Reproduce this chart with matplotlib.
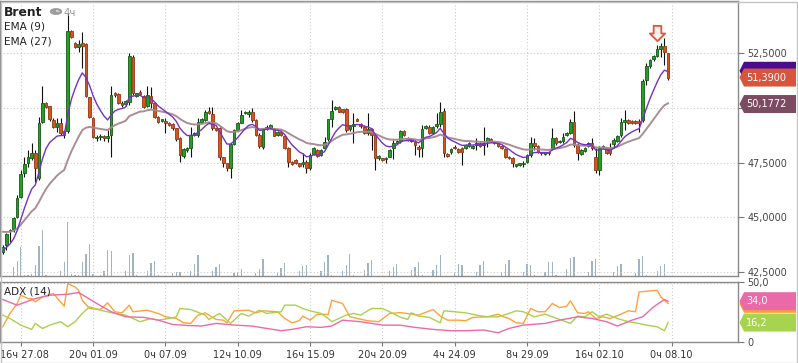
import numpy as np
import pandas as pd
import matplotlib
matplotlib.use("Agg")
import matplotlib.pyplot as plt
from matplotlib.patches import Polygon, Rectangle, Circle, Wedge
from matplotlib.path import Path
from matplotlib.transforms import ScaledTranslation

# ---------------- data ----------------
opens = [43.39, 43.73, 44.35, 44.44, 45.02, 45.94, 47.00, 47.49, 47.72, 47.92,
         46.78, 49.34, 50.21, 50.09, 49.45, 49.14, 49.32, 48.92, 48.96, 53.52,
         52.96, 52.80, 52.96, 52.93, 50.49, 49.53, 48.60, 48.65, 48.72, 48.60,
         48.76, 50.67, 50.64, 50.24, 50.18, 50.29, 52.32, 50.55, 50.74, 50.55,
         50.09, 50.55, 50.24, 49.60, 49.42, 49.40, 49.30, 49.26, 49.07, 48.61,
         47.80, 48.07, 48.15, 48.76, 48.76, 49.37, 49.45, 49.88, 49.70, 49.07,
         49.07, 47.74, 47.49, 47.23, 48.35, 48.99, 49.32, 49.75, 49.70, 49.80,
         49.45, 48.76, 48.20, 49.07, 49.10, 49.07, 48.76, 48.91, 48.71, 48.15,
         47.51, 47.62, 47.46, 47.43, 47.54, 47.23, 47.89, 48.07, 47.84, 48.15,
         48.56, 49.48, 49.95, 50.03, 49.93, 49.93, 49.03, 49.17, 49.50, 49.26,
         49.14, 48.84, 49.02, 48.76, 47.69, 47.69, 47.64, 47.77, 48.15, 48.41,
         48.50, 48.94, 48.60, 48.50, 48.45, 48.23, 48.15, 49.07, 49.14, 48.84,
         49.17, 49.26, 49.87, 47.89, 47.96, 48.23, 48.10, 48.15, 48.15, 48.27,
         48.18, 48.30, 48.38, 48.30, 48.50, 48.58, 48.45, 48.38, 48.26, 48.10,
         47.77, 47.69, 47.35, 47.40, 47.42, 47.54, 47.84, 48.38, 48.26, 47.99,
         47.89, 47.99, 48.15, 48.61, 48.44, 48.50, 48.76, 48.87, 49.34, 48.30,
         47.90, 48.03, 48.26, 48.38, 47.77, 47.16, 48.20, 48.15, 48.10, 48.35,
         48.50, 48.76, 49.37, 49.45, 49.42, 49.40, 49.40, 49.45, 51.28, 51.92,
         52.23, 52.38, 52.71, 52.84, 52.50]
highs = [43.70, 44.28, 44.45, 45.00, 46.00, 47.16, 47.77, 48.07, 48.38, 48.07,
         49.60, 51.00, 50.25, 50.10, 49.52, 49.52, 49.52, 49.00, 54.35, 53.55,
         53.00, 53.10, 53.49, 52.96, 50.50, 49.60, 48.75, 48.80, 48.75, 48.99,
         51.02, 50.75, 50.70, 50.30, 50.35, 52.50, 52.40, 50.70, 50.80, 50.59,
         51.00, 50.97, 50.25, 49.65, 49.50, 49.52, 49.35, 49.30, 49.10, 48.68,
         48.15, 48.20, 49.14, 48.90, 49.52, 49.55, 49.90, 50.03, 50.03, 49.10,
         49.14, 47.77, 47.50, 48.38, 49.05, 49.35, 49.90, 49.85, 49.90, 50.00,
         49.50, 48.84, 49.10, 49.20, 49.25, 49.10, 48.95, 48.95, 48.75, 48.23,
         47.55, 47.66, 47.50, 47.92, 47.61, 47.92, 48.20, 48.12, 48.12, 48.68,
         49.50, 50.36, 50.10, 50.10, 49.97, 49.98, 49.20, 49.75, 49.55, 49.30,
         49.20, 49.75, 49.07, 48.84, 47.85, 47.70, 47.77, 48.10, 48.53, 48.55,
         48.99, 49.00, 48.65, 48.60, 48.53, 48.30, 49.22, 49.20, 49.20, 49.15,
         49.75, 50.29, 49.98, 47.95, 48.15, 48.30, 48.15, 48.23, 48.35, 48.45,
         48.30, 48.60, 48.42, 49.11, 48.65, 48.62, 48.50, 48.42, 48.30, 48.15,
         47.80, 47.77, 47.45, 47.50, 47.55, 47.90, 48.68, 48.60, 48.30, 48.00,
         48.00, 48.00, 49.07, 48.68, 48.55, 48.84, 48.90, 49.48, 49.87, 48.38,
         48.10, 48.20, 48.42, 48.61, 48.15, 48.26, 48.30, 48.20, 48.38, 48.61,
         48.75, 49.52, 49.90, 49.50, 49.45, 49.45, 49.48, 51.31, 52.04, 52.25,
         52.42, 52.88, 52.99, 53.19, 52.53]
lows = [43.30, 43.50, 43.85, 44.30, 44.95, 45.86, 46.85, 47.30, 47.62, 46.62,
        46.70, 49.30, 50.00, 49.40, 49.07, 48.91, 48.76, 48.60, 48.84, 53.20,
        52.75, 52.57, 51.81, 50.52, 49.55, 48.60, 48.50, 48.55, 48.50, 48.45,
        47.77, 50.50, 50.20, 50.05, 50.10, 50.15, 50.60, 50.50, 50.60, 49.98,
        50.03, 49.98, 49.55, 49.30, 49.35, 48.84, 49.15, 49.00, 48.50, 47.54,
        47.70, 48.00, 47.77, 48.70, 48.68, 49.30, 49.40, 49.70, 48.99, 48.95,
        47.61, 47.31, 47.10, 46.77, 48.30, 48.95, 49.29, 49.70, 49.60, 49.37,
        48.70, 48.15, 48.10, 49.00, 49.05, 48.70, 48.70, 48.70, 48.10, 47.31,
        47.40, 47.45, 47.30, 47.31, 47.00, 47.16, 47.85, 47.75, 47.80, 48.07,
        48.50, 49.14, 49.90, 49.80, 49.78, 48.91, 48.95, 48.38, 49.40, 49.10,
        48.80, 48.76, 48.07, 47.16, 47.60, 47.55, 47.50, 47.75, 47.65, 48.35,
        48.38, 48.70, 48.50, 48.45, 47.84, 47.77, 47.77, 49.05, 48.80, 48.80,
        49.10, 49.14, 47.77, 47.75, 47.90, 48.10, 47.95, 47.39, 48.10, 48.20,
        48.10, 48.07, 48.20, 47.84, 48.23, 48.45, 48.35, 48.20, 48.10, 47.70,
        47.65, 47.28, 47.30, 47.35, 47.31, 47.50, 47.77, 48.07, 47.95, 47.85,
        47.85, 47.85, 48.07, 48.30, 48.40, 48.41, 48.70, 48.81, 48.23, 47.61,
        47.85, 48.00, 48.20, 48.07, 47.00, 46.93, 48.15, 47.90, 47.84, 48.15,
        48.45, 48.68, 49.00, 49.25, 49.25, 49.25, 48.91, 49.37, 51.05, 51.85,
        52.15, 52.35, 52.35, 51.97, 51.28]
closes = [43.64, 44.23, 44.42, 44.94, 45.89, 46.97, 47.43, 47.74, 47.92, 47.23,
          49.29, 50.21, 50.06, 49.49, 49.14, 49.29, 48.84, 48.77, 53.52, 53.23,
          52.80, 52.93, 52.85, 50.55, 49.60, 48.65, 48.68, 48.72, 48.60, 48.72,
          50.59, 50.58, 50.24, 50.12, 50.30, 52.38, 50.67, 50.67, 50.64, 50.03,
          50.59, 50.21, 49.60, 49.37, 49.47, 49.32, 49.22, 49.07, 48.58, 47.84,
          48.10, 48.15, 48.76, 48.84, 49.37, 49.50, 49.83, 49.78, 49.07, 49.00,
          47.74, 47.49, 47.23, 48.35, 48.99, 49.29, 49.68, 49.81, 49.83, 49.45,
          48.76, 48.26, 49.07, 49.14, 49.20, 48.73, 48.91, 48.76, 48.15, 47.54,
          47.43, 47.50, 47.35, 47.54, 47.23, 47.84, 48.15, 47.80, 48.07, 48.45,
          49.48, 49.87, 50.03, 49.83, 49.83, 48.99, 49.17, 49.25, 49.42, 49.19,
          48.84, 49.02, 48.76, 47.69, 47.80, 47.61, 47.72, 48.07, 48.41, 48.50,
          48.94, 48.76, 48.53, 48.58, 48.30, 48.10, 49.02, 49.17, 48.84, 49.11,
          49.26, 49.83, 47.92, 47.80, 48.10, 48.15, 48.00, 48.00, 48.30, 48.38,
          48.27, 48.38, 48.27, 48.38, 48.60, 48.50, 48.38, 48.26, 48.15, 47.74,
          47.69, 47.46, 47.42, 47.48, 47.50, 47.84, 48.38, 48.26, 48.00, 47.92,
          47.97, 47.92, 48.61, 48.41, 48.50, 48.68, 48.84, 49.34, 48.30, 47.92,
          48.07, 48.18, 48.38, 48.15, 47.16, 48.15, 48.26, 47.95, 47.95, 48.53,
          48.71, 49.34, 49.45, 49.30, 49.30, 49.32, 49.32, 51.23, 51.92, 52.20,
          52.38, 52.68, 52.84, 52.58, 51.39]
volumes = [0, 0, 0, 9, 15, 29, 1, 1, 2, 11,
           30, 46, 1, 0, 0, 0, 5, 14, 54, 2,
           1, 1, 14, 22, 32, 2, 0, 1, 5, 26,
           25, 0, 0, 0, 5, 21, 23, 1, 0, 0,
           5, 13, 15, 1, 0, 0, 0, 3, 4, 4,
           0, 0, 5, 12, 21, 0, 0, 0, 5, 9,
           12, 0, 0, 0, 3, 4, 7, 0, 0, 0,
           3, 7, 17, 0, 0, 0, 3, 8, 13, 0,
           0, 0, 5, 10, 11, 0, 0, 0, 5, 14,
           21, 1, 0, 0, 5, 11, 22, 1, 0, 0,
           6, 13, 16, 0, 0, 0, 0, 5, 9, 12,
           0, 0, 0, 6, 9, 14, 1, 0, 0, 6,
           11, 21, 0, 0, 0, 3, 12, 11, 0, 0,
           0, 4, 11, 15, 0, 0, 0, 0, 4, 12,
           16, 0, 0, 0, 4, 12, 11, 1, 0, 0,
           4, 14, 14, 1, 0, 0, 7, 18, 19, 0,
           0, 0, 4, 15, 17, 0, 0, 0, 0, 4,
           10, 12, 0, 0, 0, 3, 17, 20, 1, 0,
           0, 5, 10, 12, 0]

ema_fast_span, ema_slow_span = 9, 27
ema_fast_seed, ema_slow_seed = 43.40, 44.38

adx_idx = [0, 4, 9, 13, 18, 21, 23, 26, 30, 34, 39, 43, 47, 51, 55, 59, 64, 69, 73, 77,
           80, 84, 88, 91, 94, 99, 105, 110, 114, 119, 124, 128, 133, 137, 140, 144, 150,
           154, 159, 163, 167, 170, 174, 177, 180, 183, 184]
adx_val = [35.4, 30.7, 36.2, 39.0, 39.8, 41.2, 37.6, 32.1, 25.2, 21.0, 20.5, 18.2, 14.6,
           13.8, 13.3, 15.5, 14.1, 13.3, 11.3, 9.4, 10.5, 12.7, 12.2, 13.3, 18.2, 16.9,
           14.1, 14.0, 12.2, 10.5, 9.4, 9.4, 10.0, 7.7, 11.3, 14.1, 15.5, 18.2, 21.0,
           19.6, 16.9, 13.3, 18.2, 21.0, 29.3, 35.4, 34.0]
pdi_idx = [0, 2, 4, 5, 7, 8, 9, 11, 14, 17, 18, 20, 21, 22, 24, 27, 29, 31, 33, 35, 36,
           40, 43, 45, 48, 50, 52, 54, 56, 59, 61, 62, 64, 68, 70, 72, 76, 78, 80, 82, 83,
           85, 87, 90, 91, 94, 96, 101, 104, 107, 110, 113, 115, 119, 121, 123, 126, 128,
           130, 134, 137, 138, 140, 142, 144, 146, 148, 150, 152, 154, 156, 157, 159, 161,
           162, 164, 166, 168, 171, 173, 175, 176, 179, 181, 182, 184]
pdi_val = [12.7, 23.8, 32.1, 39.0, 36.2, 36.2, 33.4, 37.6, 40.4, 29.9, 48.6, 45.9, 43.1,
           34.8, 27.9, 27.1, 32.6, 25.2, 24.3, 30.7, 25.2, 26.5, 23.8, 21.0, 19.6, 16.0,
           15.5, 22.4, 24.3, 18.8, 18.2, 16.0, 26.0, 26.5, 24.3, 26.0, 25.2, 19.6, 16.0,
           17.7, 21.6, 18.2, 23.2, 22.9, 34.8, 32.1, 21.0, 17.7, 16.9, 23.8, 24.5, 23.2,
           22.4, 27.1, 21.6, 18.2, 18.2, 17.7, 20.5, 21.0, 23.2, 21.6, 19.6, 16.0, 15.5,
           27.9, 25.2, 25.2, 32.1, 28.7, 29.9, 34.3, 24.3, 23.8, 25.2, 19.6, 21.0, 19.6,
           23.2, 26.0, 25.2, 41.7, 42.6, 43.1, 37.6, 32.1]
mdi_idx = [0, 2, 5, 8, 9, 11, 13, 16, 18, 20, 22, 24, 27, 31, 34, 38, 41, 43, 46, 48, 49,
           52, 56, 57, 60, 63, 66, 68, 71, 73, 77, 78, 81, 83, 85, 88, 90, 91, 95, 97, 99,
           100, 102, 105, 107, 110, 112, 113, 115, 118, 121, 122, 125, 128, 131, 134, 137,
           140, 142, 144, 147, 150, 152, 155, 157, 159, 161, 163, 165, 167, 170, 173, 175,
           178, 181, 183, 184]
mdi_val = [22.4, 19.6, 14.1, 10.5, 15.5, 11.3, 14.1, 16.9, 12.7, 16.9, 23.8, 29.3, 26.5,
           23.8, 22.4, 16.9, 19.6, 18.2, 19.6, 21.0, 27.9, 27.1, 22.4, 18.8, 23.8, 15.5,
           23.8, 21.6, 26.5, 23.8, 25.2, 30.7, 30.7, 27.9, 26.0, 23.8, 19.6, 16.9, 22.4,
           23.8, 22.4, 24.3, 27.9, 27.9, 25.2, 20.6, 18.8, 24.3, 21.6, 20.5, 16.0, 26.0,
           25.2, 24.3, 22.4, 21.0, 21.0, 23.8, 26.0, 25.2, 21.0, 23.2, 21.0, 17.7, 15.5,
           21.6, 21.0, 25.2, 21.0, 23.2, 19.6, 16.9, 16.0, 14.1, 12.7, 9.4, 16.2]

tick_idx = [5, 25, 45, 65, 85, 105, 125, 145, 165, 185]
tick_labels = ["16ч 27.08", "20ч 01.09", "0ч 07.09", "12ч 10.09", "16ч 15.09",
               "20ч 20.09", "4ч 24.09", "8ч 29.09", "16ч 02.10", "0ч 08.10"]
price_ticks = [42.5, 45.0, 47.5, 50.0, 52.5]
price_tick_labels = ["42,5000", "45,0000", "47,5000", "", "52,5000"]  # 50,0000 hidden by tag
adx_ticks = [0, 50]
adx_tick_labels = ["0", "50,0"]

last_price, ema_fast_last, ema_slow_last = 51.39, 51.70, 50.1772
adx_last, pdi_last, mdi_last = 34.0, 31.8, 16.2
signal_idx, signal_price = 181, 53.42

symbol, timeframe = "Brent", "4ч"

# ---------------- derived ----------------
n = len(closes)
idx = np.arange(n)
o = np.array(opens); h = np.array(highs); l = np.array(lows); c = np.array(closes)
ema_fast = pd.Series([ema_fast_seed] + closes).ewm(span=ema_fast_span, adjust=False).mean().iloc[1:].values
ema_slow = pd.Series([ema_slow_seed] + closes).ewm(span=ema_slow_span, adjust=False).mean().iloc[1:].values

# ---------------- figure ----------------
W, H = 798, 363
plt.rcParams['font.family'] = ['DejaVu Sans']
fig = plt.figure(figsize=(W / 100, H / 100), dpi=100)
fig.patch.set_facecolor('white')

def rect(x0, y0, x1, y1):
    return [x0 / W, 1 - y1 / H, (x1 - x0) / W, (y1 - y0) / H]

XL = (-0.75, 203.35)
GRID = dict(color='#cccccc', lw=0.8, ls=(0, (1, 2)))
FRAME = '#8a8a8a'

axv = fig.add_axes(rect(0, 1, 738, 276))
ax = fig.add_axes(rect(0, 1, 738, 276))
axa = fig.add_axes(rect(0, 282, 738, 342))

# volume
axv.bar(idx, volumes, width=0.36, color='#a0b4c4', linewidth=0)
axv.set_xlim(*XL)
axv.set_ylim(0, 275)
axv.axis('off')

# main price panel
ax.patch.set_alpha(0)
ax.set_xlim(*XL)
ax.set_ylim(42.303, 54.895)
for t in price_ticks:
    ax.axhline(t, zorder=0.5, **GRID)
for t in tick_idx:
    ax.axvline(t, zorder=0.5, **GRID)

ax.vlines(idx, l, h, color='#111111', lw=0.8, zorder=2)
up = c >= o
bot = np.minimum(o, c)
hgt = np.maximum(np.abs(c - o), 0.035)
ax.bar(idx[up], hgt[up], bottom=bot[up], width=0.72, color='#23a023',
       edgecolor='#145a14', linewidth=0.6, zorder=3)
ax.bar(idx[~up], hgt[~up], bottom=bot[~up], width=0.72, color='#d4561e',
       edgecolor='#9a3510', linewidth=0.6, zorder=3)

ax.plot(idx, ema_slow, color='#a6878f', lw=1.4, zorder=4, alpha=0.95)
ax.plot(idx, ema_fast, color='#7432c4', lw=1.0, zorder=4)

# signal arrow
arrow = Path([(-0.25, 0.5), (0.25, 0.5), (0.25, 0.0), (0.5, 0.0), (0.0, -0.5),
              (-0.5, 0.0), (-0.25, 0.0), (-0.25, 0.5)],
             [Path.MOVETO] + [Path.LINETO] * 6 + [Path.CLOSEPOLY])
ax.plot([signal_idx], [signal_price], marker=arrow, markersize=11,
        markerfacecolor='#fff1ec', markeredgecolor='#e0553a', markeredgewidth=1.3,
        zorder=6, clip_on=False)

ax.yaxis.tick_right()
ax.set_yticks(price_ticks)
ax.set_yticklabels(price_tick_labels)
ax.tick_params(axis='y', direction='out', length=4, width=0.8, color='#777777',
               labelsize=6.9, labelcolor='#444444', pad=3)
ax.set_xticks(tick_idx)
ax.tick_params(axis='x', length=0, labelbottom=False)
for s in ax.spines.values():
    s.set_color(FRAME); s.set_linewidth(1.0)

# ADX panel
axa.set_xlim(*XL)
axa.set_ylim(0, 50)
for t in tick_idx:
    axa.axvline(t, zorder=0.5, **GRID)
axa.axhline(49.2, zorder=0.5, **GRID)
axa.plot(pdi_idx, pdi_val, color='#ffa23c', lw=1.0, zorder=3)
axa.plot(mdi_idx, mdi_val, color='#a9d04e', lw=1.0, zorder=3)
axa.plot(adx_idx, adx_val, color='#ec6aa8', lw=1.0, zorder=4)
axa.yaxis.tick_right()
axa.set_yticks(adx_ticks)
axa.set_yticklabels(adx_tick_labels)
axa.tick_params(axis='y', direction='out', length=4, width=0.8, color='#777777',
                labelsize=6.9, labelcolor='#444444', pad=3)
axa.set_xticks(tick_idx)
axa.set_xticklabels(tick_labels)
axa.tick_params(axis='x', direction='out', length=3, width=0.8, color='#777777',
                labelsize=7.0, labelcolor='#333333', pad=3)
first = axa.get_xticklabels()[0]
first.set_transform(first.get_transform() + ScaledTranslation(3.5 / 100, 0, fig.dpi_scale_trans))
for s in axa.spines.values():
    s.set_color(FRAME); s.set_linewidth(1.0)

# value tags on the right
def tag(axis, value, text, color):
    _, ydisp = axis.transData.transform((0, value))
    yc = H - ydisp  # pixels from top
    pts = [(739.5, yc), (744, yc - 9), (796, yc - 9), (796, yc + 9), (744, yc + 9)]
    poly = Polygon([(x / W, 1 - y / H) for x, y in pts], closed=True,
                   transform=fig.transFigure, facecolor=color, edgecolor='none', zorder=20)
    fig.add_artist(poly)
    if text:
        fig.text(746 / W, 1 - yc / H, text, color='white', fontsize=7.0,
                 va='center', ha='left', zorder=21)

tag(ax, ema_fast_last, "", '#4b0c8e')
tag(ax, last_price, f"{last_price:.4f}".replace('.', ','), '#d8553d')
tag(ax, ema_slow_last, f"{ema_slow_last:.4f}".replace('.', ','), '#7b4b62')
tag(axa, pdi_last, "", '#f7a133')
tag(axa, adx_last, f"{adx_last:.1f}".replace('.', ','), '#e96aa6')
tag(axa, mdi_last, f"{mdi_last:.1f}".replace('.', ','), '#a6d44e')

# header
fig.text(3.5 / W, 1 - 12 / H, symbol, fontsize=8.9, fontweight='bold', color='#222222',
         va='center', ha='left')
fig.add_artist(Circle((56 / W, 1 - 11.5 / H), 5.0 / W, transform=fig.transFigure,
                      facecolor='white', edgecolor='#9a9a9a', lw=1.6))
fig.add_artist(Wedge((56 / W, 1 - 11.5 / H), 3.6 / W, 90, 360, transform=fig.transFigure,
                     facecolor='#9a9a9a', edgecolor='none'))
fig.text(64 / W, 1 - 12.5 / H, timeframe, fontsize=7.3, color='#9a9a9a', va='center', ha='left')
fig.text(3.5 / W, 1 - 26.5 / H, f"EMA ({ema_fast_span})", fontsize=7.6, color='#222222',
         va='center', ha='left')
fig.text(3.5 / W, 1 - 41.5 / H, f"EMA ({ema_slow_span})", fontsize=7.6, color='#222222',
         va='center', ha='left')
fig.text(3.5 / W, 1 - 291.5 / H, "ADX (14)", fontsize=7.5, color='#222222',
         va='center', ha='left')

# outer frame
fig.add_artist(Rectangle((0.5 / W, 0.5 / H), (W - 2) / W, (H - 2) / H, transform=fig.transFigure,
                         fill=False, edgecolor='#c4c4c4', lw=1.0))

fig.savefig("out.png", dpi=100, facecolor='white')
